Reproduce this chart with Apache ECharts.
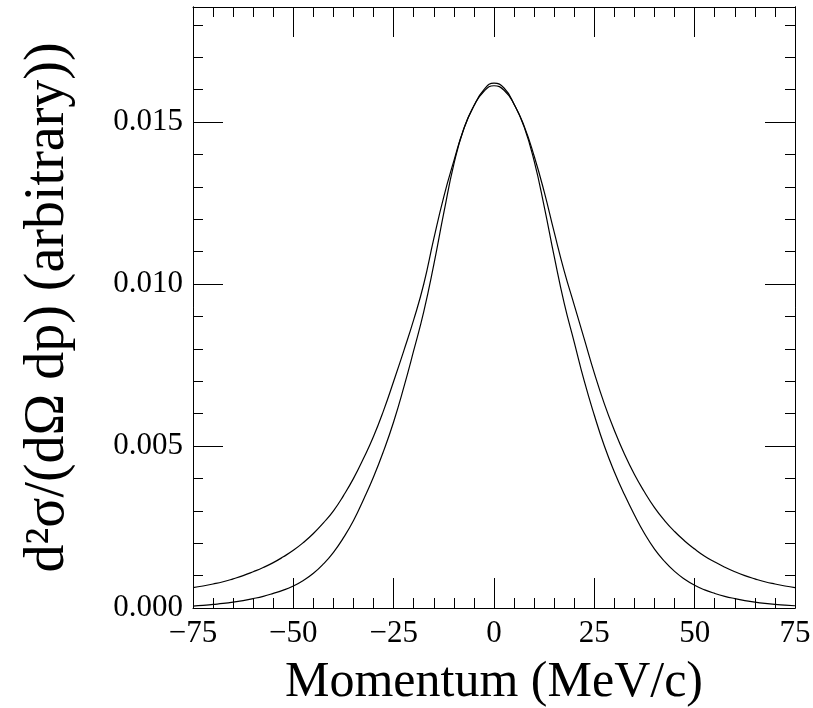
<!DOCTYPE html>
<html>
<head>
<meta charset="utf-8">
<title>Momentum distribution</title>
<script src="https://cdn.jsdelivr.net/npm/echarts@6/dist/echarts.min.js"></script>
<style>
  html, body { margin: 0; padding: 0; background: #fff; }
  #chart { width: 813px; height: 708px; }
</style>
</head>
<body>
<div id="chart"></div>
<script>
// Momentum grid (MeV/c)
const momentum = [
  -75, -72.5, -70, -67.5, -65, -62.5, -60, -57.5, -55, -52.5, -50, -47.5,
  -45, -42.5, -40, -37.5, -35, -32.5, -30, -27.5, -25, -22.5, -20, -17.5,
  -15, -12.5, -10, -7.5, -5, -2.5, 0, 2.5, 5, 7.5, 10, 12.5, 15, 17.5,
  20, 22.5, 25, 27.5, 30, 32.5, 35, 37.5, 40, 42.5, 45, 47.5, 50, 52.5,
  55, 57.5, 60, 62.5, 65, 67.5, 70, 72.5, 75
];

// Narrow distribution
const narrowCurve = [
  0.00006, 0.00008, 0.00011, 0.00014, 0.00018, 0.00023, 0.00029, 0.00036,
  0.00045, 0.00055, 0.00068, 0.00085, 0.00107, 0.00136, 0.00172, 0.00217,
  0.00270, 0.00335, 0.00405, 0.00485, 0.00575, 0.00680, 0.00795, 0.00915,
  0.01060, 0.01220, 0.01370, 0.01480, 0.01550, 0.01600, 0.01620, 0.01605,
  0.01555, 0.01485, 0.01380, 0.01240, 0.01085, 0.00940, 0.00820, 0.00700,
  0.00595, 0.00500, 0.00420, 0.00350, 0.00287, 0.00230, 0.00182, 0.00144,
  0.00113, 0.00089, 0.00070, 0.00056, 0.00045, 0.00036, 0.00029, 0.00023,
  0.00018, 0.00014, 0.00011, 0.00009, 0.00007
];

// Wide distribution
const wideCurve = [
  0.00063, 0.00068, 0.00074, 0.00081, 0.00090, 0.00100, 0.00112, 0.00125,
  0.00140, 0.00158, 0.00178, 0.00202, 0.00230, 0.00263, 0.00300, 0.00347,
  0.00400, 0.00462, 0.00530, 0.00610, 0.00700, 0.00793, 0.00890, 0.01000,
  0.01140, 0.01270, 0.01380, 0.01480, 0.01550, 0.01595, 0.01612, 0.01598,
  0.01555, 0.01488, 0.01395, 0.01285, 0.01160, 0.01040, 0.00935, 0.00830,
  0.00725, 0.00630, 0.00548, 0.00475, 0.00412, 0.00358, 0.00310, 0.00270,
  0.00236, 0.00207, 0.00182, 0.00160, 0.00142, 0.00126, 0.00112, 0.00100,
  0.00090, 0.00081, 0.00074, 0.00068, 0.00063
];

const X_MIN = -75, X_MAX = 75, X_STEP = 25;
const Y_MIN = 0, Y_MAX = 0.01855, Y_STEP = 0.005, Y_MINOR = 0.001;

const FONT = '"Liberation Serif", "DejaVu Serif", serif';
const INK = '#000';

function pairs(ys) {
  return momentum.map((x, i) => [x, ys[i]]);
}

function isMajor(v) {
  const k = v / Y_STEP;
  return Math.abs(k - Math.round(k)) < 1e-6;
}

const lineAxis = { show: true, onZero: false, lineStyle: { color: INK, width: 1 } };

function xAxisDef(position, withLabels) {
  return {
    type: 'value', position: position, min: X_MIN, max: X_MAX, interval: X_STEP,
    axisLine: lineAxis,
    axisTick: { show: true, inside: true, length: 30, lineStyle: { color: INK, width: 1 } },
    minorTick: { show: true, splitNumber: 5, length: 10, lineStyle: { color: INK, width: 1 } },
    splitLine: { show: false },
    axisLabel: withLabels ? {
      show: true, margin: 10, color: INK, fontFamily: FONT, fontSize: 31,
      formatter: v => (v < 0 ? '\u2212' + Math.abs(v) : String(v))
    } : { show: false },
    name: withLabels ? 'Momentum (MeV/c)' : '',
    nameLocation: 'middle', nameGap: 50,
    nameTextStyle: { color: INK, fontFamily: FONT, fontSize: 50 }
  };
}

function yAxisDef(position, step, tickLen, withLabels, name) {
  return {
    type: 'value', position: position, min: Y_MIN, max: Y_MAX, interval: step,
    axisLine: lineAxis,
    axisTick: { show: true, inside: true, length: tickLen, lineStyle: { color: INK, width: 1 } },
    splitLine: { show: false },
    axisLabel: withLabels ? {
      show: true, margin: 10, color: INK, fontFamily: FONT, fontSize: 31,
      formatter: v => (isMajor(v) ? v.toFixed(3) : '')
    } : { show: false },
    name: name || '',
    nameLocation: 'middle', nameRotate: 90, nameGap: 117,
    nameTextStyle: { color: INK, fontFamily: FONT, fontSize: 56 }
  };
}

const chart = echarts.init(document.getElementById('chart'), null, { renderer: 'canvas' });

chart.setOption({
  animation: false,
  backgroundColor: '#fff',
  grid: { left: 193, right: 18, top: 7, bottom: 100, containLabel: false, outerBoundsMode: 'none' },
  xAxis: [ xAxisDef('bottom', true), xAxisDef('top', false) ],
  yAxis: [
    yAxisDef('left', Y_MINOR, 10, true, 'd\u00b2\u03c3/(d\u03a9 dp) (arbitrary))'),
    yAxisDef('left', Y_STEP, 30, false),
    yAxisDef('right', Y_MINOR, 10, false),
    yAxisDef('right', Y_STEP, 30, false)
  ],
  series: [
    {
      name: 'narrow', type: 'line', data: pairs(narrowCurve), smooth: 0.5,
      showSymbol: false, lineStyle: { color: INK, width: 1.2 }
    },
    {
      name: 'wide', type: 'line', data: pairs(wideCurve), smooth: 0.5,
      showSymbol: false, lineStyle: { color: INK, width: 1.2 }
    }
  ]
});
</script>
</body>
</html>
